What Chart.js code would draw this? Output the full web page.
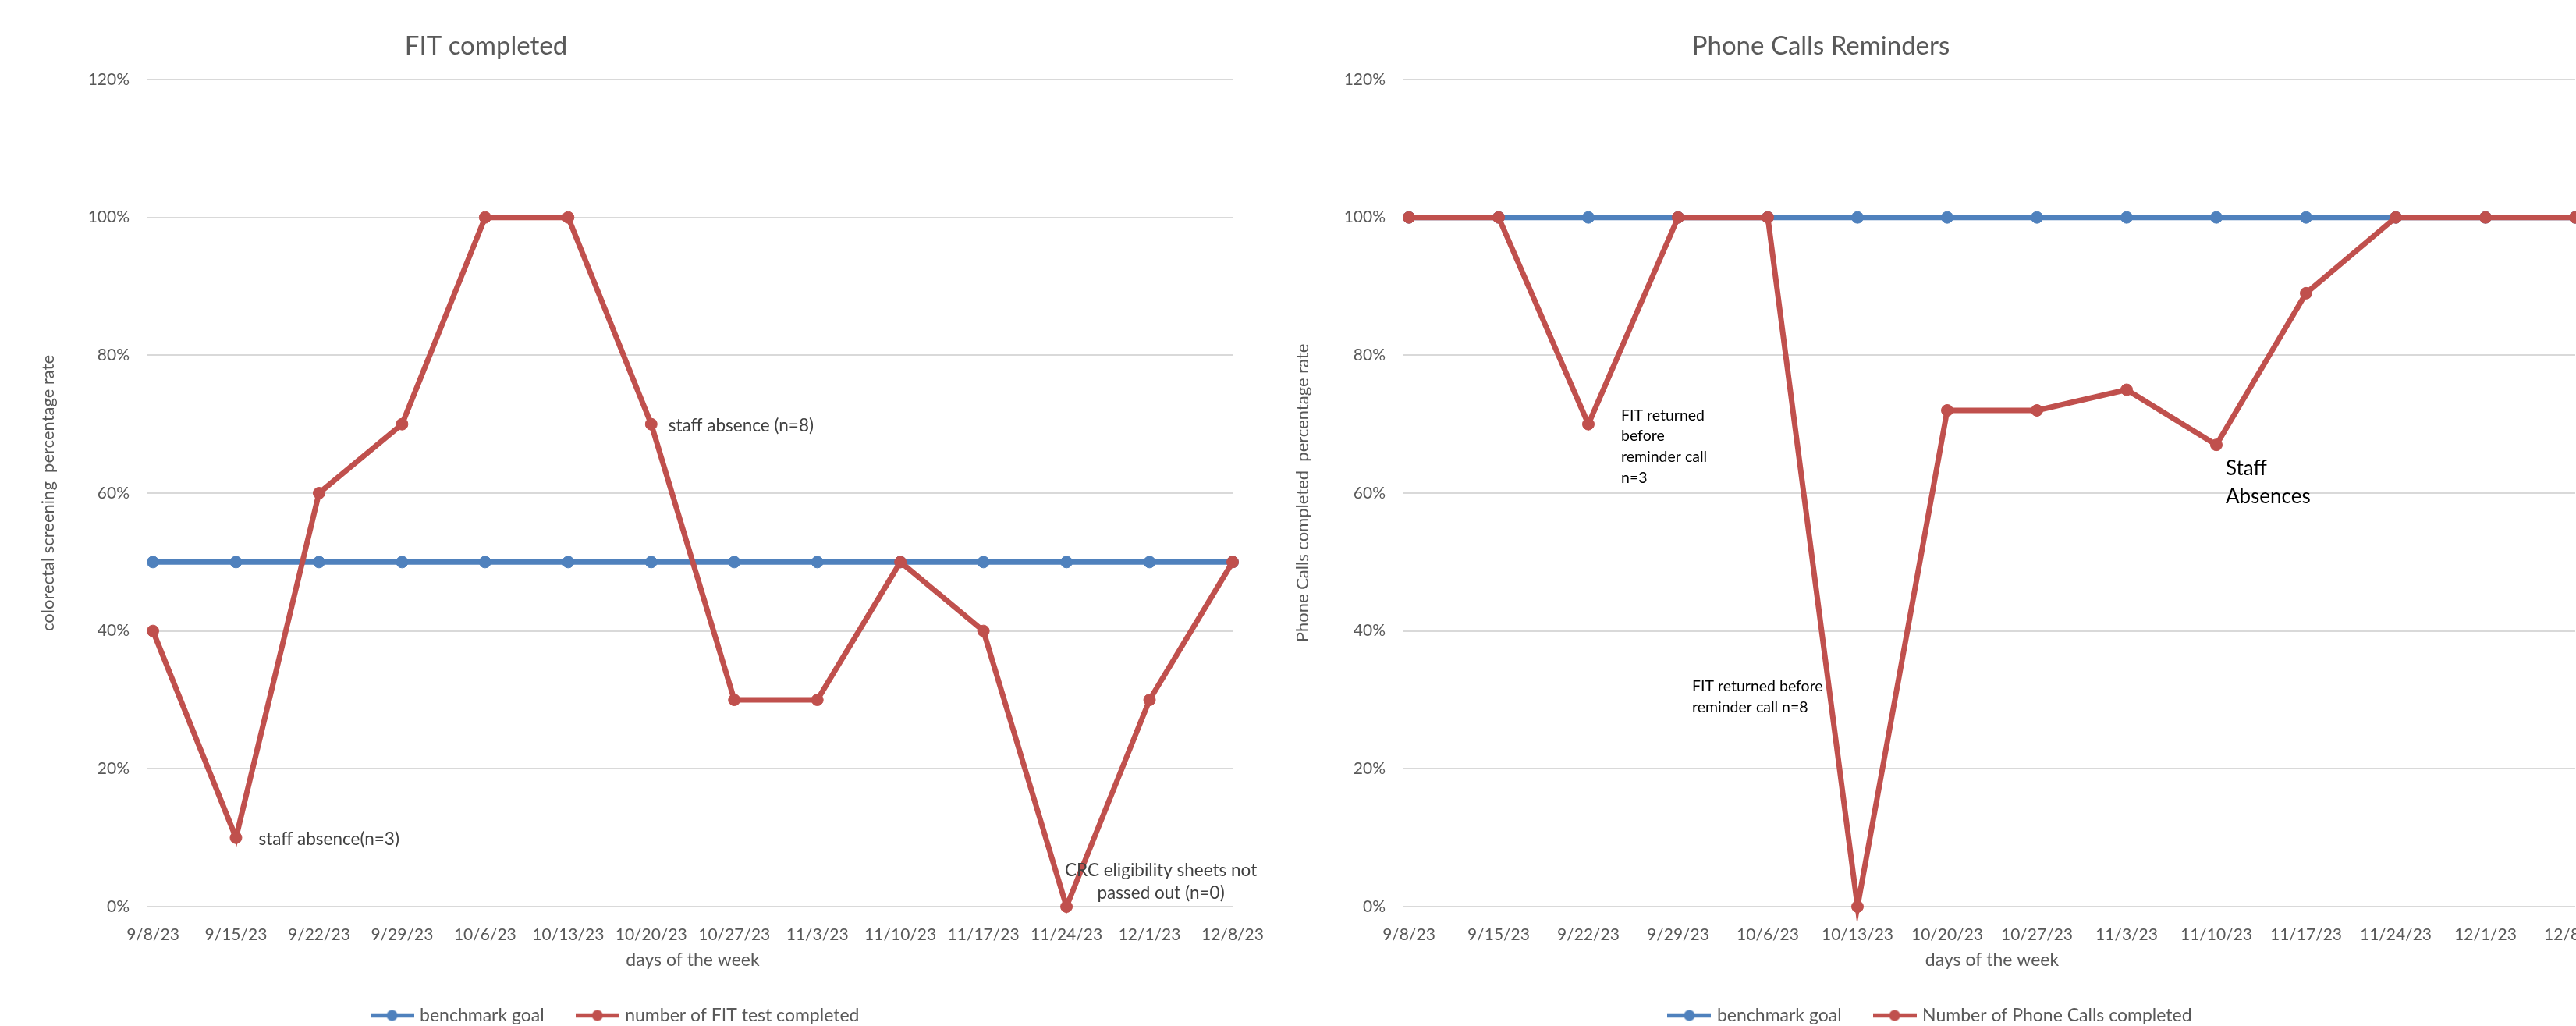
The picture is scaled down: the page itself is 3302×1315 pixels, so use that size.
<!DOCTYPE html>
<html>
<head>
<meta charset="utf-8">
<script src="https://cdn.jsdelivr.net/npm/chart.js@4.4.1/dist/chart.umd.min.js"></script>
<style>
  html, body { margin: 0; padding: 0; background: #fff; overflow: hidden; }
  body { width: 3302px; height: 1315px; position: relative; }
  .box { position: absolute; top: 0; }
  #fitBox { left: 0; }
  #callBox { left: 1650px; }
</style>
</head>
<body>
<div class="box" id="fitBox"><canvas id="fitChart" width="1620" height="1315"></canvas></div>
<div class="box" id="callBox"><canvas id="callChart" width="1660" height="1315"></canvas></div>
<script>
// weeks on the x axis (shared by both charts)
var weeks = ['9/8/23', '9/15/23', '9/22/23', '9/29/23', '10/6/23', '10/13/23', '10/20/23',
             '10/27/23', '11/3/23', '11/10/23', '11/17/23', '11/24/23', '12/1/23', '12/8/23'];

// y axis ticks, in percent
var percentTicks = [0, 20, 40, 60, 80, 100, 120];

// FIT completed
var fitBenchmark = [50, 50, 50, 50, 50, 50, 50, 50, 50, 50, 50, 50, 50, 50];
var fitCompleted = [40, 10, 60, 70, 100, 100, 70, 30, 30, 50, 40, 0, 30, 50];

// phone call reminders
var callBenchmark = [100, 100, 100, 100, 100, 100, 100, 100, 100, 100, 100, 100, 100, 100];
var callsCompleted = [100, 100, 70, 100, 100, 0, 72, 72, 75, 67, 89, 100, 100, 100];

// notes written next to some points
var fitNotes = [
  ['staff absence (n=8)'],
  ['staff absence(n=3)'],
  ['CRC eligibility sheets not', 'passed out (n=0)']
];
var callNotes = [
  ['FIT returned', 'before', 'reminder call', 'n=3'],
  ['FIT returned before', 'reminder call n=8'],
  ['Staff', 'Absences']
];

var BLUE = '#4F81BD';
var RED = '#C0504D';
var GREY = '#595959';
var PLOT_TOP = 102;
var PLOT_BOTTOM = 1162;
var PAD_BOTTOM = -8;

Chart.defaults.font.family = 'Lato';
Chart.defaults.color = GREY;

// line + marker icon like the excel legend
function legendIcon(color) {
  var c = document.createElement('canvas');
  c.width = 56; c.height = 18;
  var g = c.getContext('2d');
  g.strokeStyle = color; g.lineWidth = 5;
  g.beginPath(); g.moveTo(0, 9); g.lineTo(56, 9); g.stroke();
  g.fillStyle = color;
  g.beginPath(); g.arc(28, 9, 7, 0, Math.PI * 2); g.fill();
  return c;
}

// title drawn at a set spot
var sheetTitle = {
  id: 'sheetTitle',
  afterDraw: function(chart, args, opts) {
    var ctx = chart.ctx;
    ctx.save();
    ctx.font = '33px Lato';
    ctx.fillStyle = GREY;
    ctx.textAlign = 'center';
    ctx.textBaseline = 'alphabetic';
    ctx.fillText(opts.text, opts.x, opts.y);
    ctx.restore();
  }
};

// text notes placed next to a data point
var pointNotes = {
  id: 'pointNotes',
  afterDatasetsDraw: function(chart, args, opts) {
    var ctx = chart.ctx;
    var xs = chart.scales.x, ys = chart.scales.y;
    var data = chart.data.datasets[opts.dataset].data;
    opts.items.forEach(function(n) {
      var px = xs.getPixelForValue(n.at);
      var py = ys.getPixelForValue(data[n.at]);
      ctx.save();
      ctx.font = n.size + 'px Lato';
      ctx.fillStyle = n.color;
      ctx.textAlign = n.align || 'left';
      ctx.textBaseline = 'alphabetic';
      n.text.forEach(function(line, i) {
        ctx.fillText(line, px + n.dx, py + n.dy + i * n.gap);
      });
      ctx.restore();
    });
  }
};

function makeChart(id, opts) {
  return new Chart(document.getElementById(id), {
    type: 'line',
    data: {
      labels: weeks,
      datasets: [
        {
          label: 'benchmark goal',
          data: opts.goal,
          borderColor: BLUE, backgroundColor: BLUE,
          pointBackgroundColor: BLUE, pointBorderColor: BLUE,
          borderWidth: 7, pointRadius: 7.5, pointBorderWidth: 1,
          tension: 0, clip: false, order: 1
        },
        {
          label: opts.seriesName,
          data: opts.actual,
          borderColor: RED, backgroundColor: RED,
          pointBackgroundColor: RED, pointBorderColor: RED,
          borderWidth: 7, pointRadius: 7.5, pointBorderWidth: 1,
          tension: 0, clip: false, order: 0
        }
      ]
    },
    plugins: [sheetTitle, pointNotes],
    options: {
      responsive: false,
      animation: false,
      events: [],
      layout: { padding: { top: PLOT_TOP, left: 0, right: opts.padRight, bottom: PAD_BOTTOM } },
      scales: {
        x: {
          offset: false,
          grid: { display: false },
          border: { display: false },
          ticks: { font: { size: 21 }, color: GREY, padding: 16, maxRotation: 0, autoSkip: false },
          title: { display: true, text: 'days of the week', font: { size: 23 }, color: GREY, padding: { top: 0, bottom: 2 } },
          afterFit: function(scale) {
            scale.paddingLeft = 0;
            scale.paddingRight = 0;
            var legendH = scale.chart.legend ? scale.chart.legend.height : 0;
            scale.height = scale.chart.height - PAD_BOTTOM - PLOT_BOTTOM - legendH;
          }
        },
        y: {
          min: 0, max: 120,
          grid: { color: '#D9D9D9', lineWidth: 2, drawTicks: true, tickLength: 8 },
          border: { display: false },
          afterBuildTicks: function(scale) {
            scale.ticks = percentTicks.map(function(v) { return { value: v }; });
          },
          ticks: {
            font: { size: 21 }, color: GREY, padding: 22,
            callback: function(v) { return v + '%'; }
          },
          title: { display: true, text: opts.yTitle, font: { size: 22 }, color: GREY, padding: { top: opts.yTitlePad, bottom: 0 } },
          afterFit: function(scale) {
            scale.width = opts.plotLeft;
            scale.paddingTop = 0;
            scale.paddingBottom = 0;
          }
        }
      },
      plugins: {
        title: { display: false },
        tooltip: { enabled: false },
        legend: {
          position: 'bottom',
          labels: {
            usePointStyle: true,
            pointStyleWidth: 48,
            padding: 44,
            color: GREY,
            font: { size: 23 },
            generateLabels: function(chart) {
              var items = Chart.defaults.plugins.legend.labels.generateLabels(chart);
              items.forEach(function(it) {
                it.pointStyle = legendIcon(chart.data.datasets[it.datasetIndex].borderColor);
              });
              return items.sort(function(a, b) { return a.datasetIndex - b.datasetIndex; });
            }
          }
        },
        sheetTitle: { text: opts.title, x: opts.titleX, y: 70 },
        pointNotes: { dataset: 1, items: opts.notes }
      }
    }
  });
}

makeChart('fitChart', {
  title: 'FIT completed',
  titleX: 623,
  seriesName: 'number of FIT test completed',
  goal: fitBenchmark,
  actual: fitCompleted,
  yTitle: 'colorectal screening  percentage rate',
  yTitlePad: 49,
  plotLeft: 196,
  padRight: 40,
  notes: [
    { at: 6, text: fitNotes[0], dx: 22, dy: 9, gap: 0, size: 22.5, color: '#404040' },
    { at: 1, text: fitNotes[1], dx: 29, dy: 9, gap: 0, size: 22.5, color: '#404040' },
    { at: 11, text: fitNotes[2], dx: 121, dy: -39, gap: 29, size: 22.5, color: '#404040', align: 'center' }
  ]
});

makeChart('callChart', {
  title: 'Phone Calls Reminders',
  titleX: 684,
  seriesName: 'Number of Phone Calls completed',
  goal: callBenchmark,
  actual: callsCompleted,
  yTitle: 'Phone Calls completed  percentage rate',
  yTitlePad: 7,
  plotLeft: 156,
  padRight: 9,
  notes: [
    { at: 2, text: callNotes[0], dx: 42, dy: -5, gap: 26.7, size: 19.5, color: '#000000' },
    { at: 5, text: callNotes[1], dx: -212, dy: -276, gap: 27, size: 19.5, color: '#000000' },
    { at: 9, text: callNotes[2], dx: 12, dy: 39, gap: 36, size: 26, color: '#000000' }
  ]
});
</script>
</body>
</html>
